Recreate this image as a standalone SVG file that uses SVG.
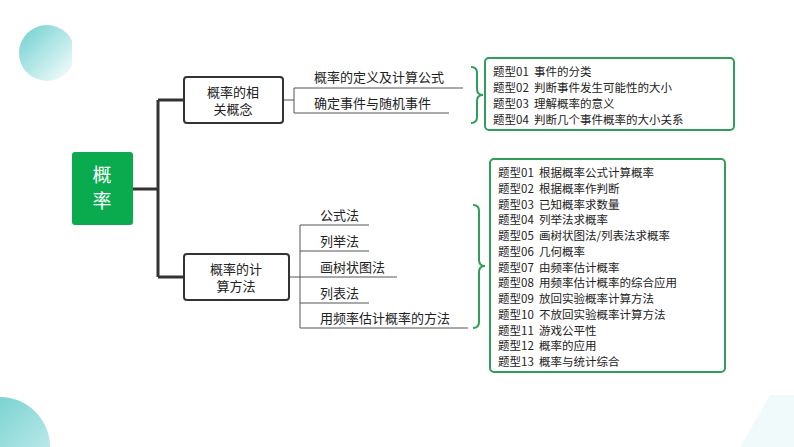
<svg xmlns="http://www.w3.org/2000/svg" width="794" height="447" viewBox="0 0 794 447">
<defs>
<linearGradient id="g1" x1="0" y1="0" x2="1" y2="1"><stop offset="0" stop-color="#6ccfcf"/><stop offset="1" stop-color="#ffffff"/></linearGradient>
<linearGradient id="g2" x1="0" y1="0" x2="1" y2="1"><stop offset="0" stop-color="#5cc8c8"/><stop offset="1" stop-color="#d8f3f3"/></linearGradient>
<clipPath id="c1"><rect x="0" y="0" width="72" height="100"/></clipPath>
<style>
.t{font-family:"Noto Sans CJK SC","Liberation Serif",serif;font-size:13px;fill:#222;white-space:pre}
.s{font-size:11.5px}
.n{fill:#fff;stroke:#333;stroke-width:2}
.l{stroke:#555;stroke-width:1;fill:none}
.tk{stroke:#333;stroke-width:3;fill:none}
.b{fill:#fff;stroke:#2e9e5a;stroke-width:2}
.br{stroke:#2e9e5a;stroke-width:2;fill:none}
</style>
</defs>
<rect width="794" height="447" fill="#fff"/>
<circle cx="47" cy="53" r="28" fill="url(#g1)" clip-path="url(#c1)"/>
<circle cx="0" cy="447" r="50" fill="url(#g2)"/>
<path d="M740 447 L770 395 L794 395 L794 447 Z" fill="#f1fafa"/>
<g id="connectors">
<path class="tk" d="M133 189H158M158 100V277M158 100H184M158 277H184"/>
<path class="l" d="M283 100H294M294 88V113M294 88H463M294 113H449"/>
<path class="l" d="M289 277H300M300 225V328M300 225H369M300 251H369M300 277H397M300 303H369M300 328H468"/>
<path class="br" d="M471 67 q6 0 6 6 v16 q0 6 6 6 q-6 0 -6 6 v16 q0 6 -6 6"/>
<path class="br" d="M473 205 q6 0 6 6 v49 q0 6 6 6 q-6 0 -6 6 v50 q0 6 -6 6"/>
</g>
<g id="root"><rect x="72" y="152" width="61" height="73" rx="3" fill="#0aab4e"/>
<text x="102" y="182" text-anchor="middle" style="font-family:'Noto Sans CJK SC',sans-serif;font-size:19px;fill:#fff">概</text>
<text x="102" y="208" text-anchor="middle" style="font-family:'Noto Sans CJK SC',sans-serif;font-size:19px;fill:#fff">率</text></g>
<g id="n1"><rect class="n" x="184" y="77" width="99" height="46" rx="3"/>
<text class="t" x="233" y="97" text-anchor="middle">概率的相</text><text class="t" x="233" y="114" text-anchor="middle">关概念</text></g>
<g id="n2"><rect class="n" x="184" y="254" width="105" height="46" rx="3"/>
<text class="t" x="236" y="274" text-anchor="middle">概率的计</text><text class="t" x="236" y="291" text-anchor="middle">算方法</text></g>
<g id="leaves">
<text class="t" x="314" y="82">概率的定义及计算公式</text>
<text class="t" x="314" y="108">确定事件与随机事件</text>
<text class="t" x="320" y="220">公式法</text>
<text class="t" x="320" y="246">列举法</text>
<text class="t" x="320" y="272">画树状图法</text>
<text class="t" x="320" y="298">列表法</text>
<text class="t" x="320" y="323">用频率估计概率的方法</text>
</g>
<g id="box1"><rect class="b" x="485" y="58" width="249" height="72" rx="4"/>
<text class="t s" x="493" y="76">题型01  事件的分类</text>
<text class="t s" x="493" y="92">题型02  判断事件发生可能性的大小</text>
<text class="t s" x="493" y="108">题型03  理解概率的意义</text>
<text class="t s" x="493" y="124">题型04  判断几个事件概率的大小关系</text></g>
<g id="box2"><rect class="b" x="490" y="159" width="235" height="213" rx="4"/>
<text class="t s" x="498" y="177">题型01  根据概率公式计算概率</text>
<text class="t s" x="498" y="192.75">题型02  根据概率作判断</text>
<text class="t s" x="498" y="208.5">题型03  已知概率求数量</text>
<text class="t s" x="498" y="224.25">题型04  列举法求概率</text>
<text class="t s" x="498" y="240">题型05  画树状图法/列表法求概率</text>
<text class="t s" x="498" y="255.75">题型06  几何概率</text>
<text class="t s" x="498" y="271.5">题型07  由频率估计概率</text>
<text class="t s" x="498" y="287.25">题型08  用频率估计概率的综合应用</text>
<text class="t s" x="498" y="303">题型09  放回实验概率计算方法</text>
<text class="t s" x="498" y="318.75">题型10  不放回实验概率计算方法</text>
<text class="t s" x="498" y="334.5">题型11  游戏公平性</text>
<text class="t s" x="498" y="350.25">题型12  概率的应用</text>
<text class="t s" x="498" y="366">题型13  概率与统计综合</text></g>
</svg>
